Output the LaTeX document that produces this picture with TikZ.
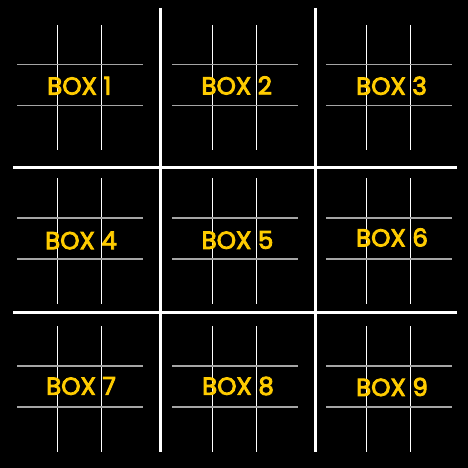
\documentclass[tikz,border=0pt]{standalone}
\usepackage{fontspec}
\setmainfont{Poppins}
\newfontfamily\boxfont{Poppins}[FakeBold=3.5]
\definecolor{boxyellow}{RGB}{255,204,0}
\definecolor{thingray}{RGB}{165,165,165}
\tikzset{
  bigline/.style={draw=white, line width=3pt},
  thinv/.style={draw=white, line width=1pt},
  thinh/.style={draw=thingray, line width=1.6pt},
  boxlabel/.style={text=boxyellow, inner sep=0pt, font=\boxfont\fontsize{24.6}{30}\selectfont}
}
\begin{document}
\begin{tikzpicture}[x=1pt,y=-1pt]
\fill[black] (0,0) rectangle (468,468);
\useasboundingbox (0,0) rectangle (468,468);
% small grids
\foreach \xa/\xb/\hl/\hr in {57.5/101/17/143, 212.3/256.3/172/297.7, 366.3/410.3/326/452}{
  \foreach \vt/\vb/\ha/\hb in {25/150/64.5/105.5, 178.3/303.7/217.7/258.7, 326/451.7/366/406.7}{
    \draw[thinv] (\xa,\vt) -- (\xa,\vb);
    \draw[thinv] (\xb,\vt) -- (\xb,\vb);
    \draw[thinh] (\hl,\ha) -- (\hr,\ha);
    \draw[thinh] (\hl,\hb) -- (\hr,\hb);
  }
}
% big grid
\coordinate (v1t) at (160.4,8); \coordinate (v1b) at (160.4,452);
\coordinate (v2t) at (315.3,8); \coordinate (v2b) at (315.3,452);
\coordinate (h1l) at (13,167.4); \coordinate (h1r) at (457,167.4);
\coordinate (h2l) at (13,312.2); \coordinate (h2r) at (457,312.2);
\draw[bigline] (v1t) -- (v1b);
\draw[bigline] (v2t) -- (v2b);
\draw[bigline] (h1l) -- (h1r);
\draw[bigline] (h2l) -- (h2r);
% labels
\node[boxlabel] (b1) at (79.3,85.8) {BOX 1};
\node[boxlabel] (b2) at (236.7,85.5) {BOX 2};
\node[boxlabel] (b3) at (391.5,85.8) {BOX 3};
\node[boxlabel] (b4) at (81,240.5) {BOX 4};
\node[boxlabel] (b5) at (237.5,240) {BOX 5};
\node[boxlabel] (b6) at (392,237.5) {BOX 6};
\node[boxlabel] (b7) at (81,386) {BOX 7};
\node[boxlabel] (b8) at (238,386) {BOX 8};
\node[boxlabel] (b9) at (392,387) {BOX 9};
\end{tikzpicture}
\end{document}
